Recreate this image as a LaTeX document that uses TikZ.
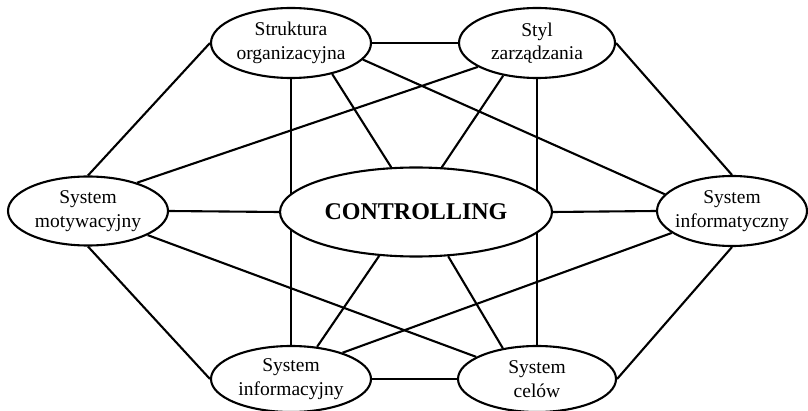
\documentclass[tikz,border=0pt]{standalone}
\usepackage{fontspec}
\setmainfont{Liberation Serif}
\usetikzlibrary{shapes.geometric,backgrounds}
\newcommand{\twoline}[2]{\makebox[0pt]{#1}\\\makebox[0pt]{#2}}
\begin{document}
\begin{tikzpicture}[x=1pt,y=-1pt,
  box/.style={ellipse,draw,fill=white,line width=2.1pt,inner sep=0pt,align=center,
    font=\fontsize{19.5}{23.5}\selectfont},
  link/.style={line width=2.1pt}]
\useasboundingbox (0,0) rectangle (808,411);
\node[box,minimum width=160pt,minimum height=70pt] (strukt) at (291,43) {\twoline{Struktura}{organizacyjna}};
\node[box,minimum width=156pt,minimum height=70pt] (styl) at (537,43) {\twoline{Styl}{zarządzania}};
\node[box,minimum width=160pt,minimum height=69pt] (motyw) at (88,211) {\twoline{System}{motywacyjny}};
\node[box,minimum width=150pt,minimum height=70pt] (infot) at (732,211) {\twoline{System}{informatyczny}};
\node[box,minimum width=272pt,minimum height=89pt,font=\fontsize{24}{28}\selectfont\bfseries] (ctrl) at (416,212) {CONTROLLING};
\node[box,minimum width=160pt,minimum height=66pt] (infoc) at (291,379) {\twoline{System}{informacyjny}};
\node[box,minimum width=158pt,minimum height=66pt] (cele) at (537,379) {\twoline{System}{celów}};
\begin{scope}[on background layer]
\draw[link] (strukt.east) -- (styl.west);
\draw[link] (motyw.north) -- (strukt.west);
\draw[link] (styl.east) -- (infot.north);
\draw[link] (motyw.south) -- (infoc.west);
\draw[link] (infot.south) -- (cele.east);
\draw[link] (infoc.east) -- (cele.west);
\draw[link] (ctrl.west) -- (motyw.east);
\draw[link] (ctrl.east) -- (infot.west);
\draw[link] (strukt.south) -- (infoc.north);
\draw[link] (styl.south) -- (cele.north);
\draw[link] (ctrl.119) -- (strukt.-37);
\draw[link] (ctrl.60) -- (styl.-136);
\draw[link] (ctrl.-130) -- (infoc.51);
\draw[link] (ctrl.-54) -- (cele.138);
\draw[link] (strukt.-13.5) -- (infot.166);
\draw[link] (styl.-158) -- (motyw.30);
\draw[link] (motyw.-22) -- (cele.160);
\draw[link] (infot.-160) -- (infoc.27);
\end{scope}
\end{tikzpicture}
\end{document}
